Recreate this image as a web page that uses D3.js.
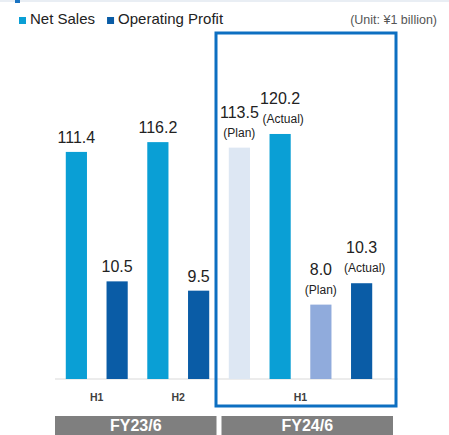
<!DOCTYPE html>
<html>
<head>
<meta charset="utf-8">
<script src="https://cdn.jsdelivr.net/npm/d3@7.9.0/dist/d3.min.js"></script>
<style>
  html, body { margin: 0; padding: 0; background: #fff; }
  svg { display: block; font-family: "Liberation Sans", Arial, sans-serif; }
</style>
</head>
<body>
<svg id="chart" width="449" height="435"></svg>
<script>
// data
const barKeys = ["23H1-sales", "23H1-profit", "23H2-sales", "23H2-profit",
                 "24H1-salesPlan", "24H1-salesActual", "24H1-profitPlan", "24H1-profitActual"];
const barValues = [111.4, 10.5, 116.2, 9.5, 113.5, 120.2, 8.0, 10.3];
const barSeries = ["sales", "profit", "sales", "profit", "salesPlan", "sales", "profitPlan", "profit"];
const barNotes = ["", "", "", "", "(Plan)", "(Actual)", "(Plan)", "(Actual)"];
const halfLabels = ["H1", "H2", "H1"];
const halfBars = [[0, 1], [2, 3], [4, 7]];
const fyLabels = ["FY23/6", "FY24/6"];
const legendLabels = ["Net Sales", "Operating Profit"];

const colors = {
  sales: "#0a9fd5",
  profit: "#0a5ca6",
  salesPlan: "#dde7f3",
  profitPlan: "#90abdc"
};

const svg = d3.select("#chart");
const baseY = 379;

const x = d3.scaleBand().domain(barKeys).range([56, 382])
  .paddingInner(0.48).paddingOuter(0.24);
// sales and profit sit on their own scales
const ySales = d3.scaleLinear().domain([0, 130]).range([baseY, 114]);
const yProfit = d3.scaleLinear().domain([0, 28.5]).range([baseY, 114]);
const yFor = (i) => barSeries[i].startsWith("sales") ? ySales : yProfit;

// faint top strip
svg.append("rect").attr("x", 0).attr("y", 0).attr("width", 449).attr("height", 2).attr("fill", "#e9eef4");
svg.append("rect").attr("x", 15).attr("y", 0).attr("width", 5).attr("height", 3).attr("fill", "#1a73c2");

// legend
const lg = svg.append("g");
let lx = 19;
legendLabels.forEach((t, i) => {
  lg.append("rect").attr("x", lx).attr("y", 17).attr("width", 7).attr("height", 7)
    .attr("fill", i === 0 ? colors.sales : colors.profit);
  const txt = lg.append("text").attr("x", lx + 11).attr("y", 24)
    .attr("font-size", 15).attr("fill", "#222").text(t);
  lx += 11 + txt.node().getComputedTextLength() + 12;
});
svg.append("text").attr("x", 437).attr("y", 24).attr("text-anchor", "end")
  .attr("font-size", 12.5).attr("fill", "#555").text("(Unit: \u00a51 billion)");

// baseline
svg.append("line").attr("x1", 55).attr("x2", 398).attr("y1", baseY).attr("y2", baseY)
  .attr("stroke", "#d9d9d9").attr("stroke-width", 1);

// bars
svg.selectAll("rect.bar").data(barKeys).join("rect")
  .attr("class", "bar")
  .attr("x", (d) => x(d))
  .attr("width", x.bandwidth())
  .attr("y", (d, i) => yFor(i)(barValues[i]))
  .attr("height", (d, i) => baseY - yFor(i)(barValues[i]))
  .attr("fill", (d, i) => colors[barSeries[i]]);

// value labels
barKeys.forEach((k, i) => {
  const cx = x(k) + x.bandwidth() / 2;
  const top = yFor(i)(barValues[i]);
  const valY = barNotes[i] ? top - 30 : top - 9;
  svg.append("text").attr("x", cx).attr("y", valY).attr("text-anchor", "middle")
    .attr("font-size", 16).attr("fill", "#222").text(barValues[i].toFixed(1));
  if (barNotes[i]) {
    svg.append("text").attr("x", cx + (barNotes[i] === "(Actual)" ? 3 : 0)).attr("y", top - 11)
      .attr("text-anchor", "middle").attr("font-size", 12).attr("fill", "#222").text(barNotes[i]);
  }
});

// half-year labels
halfLabels.forEach((t, i) => {
  const a = x(barKeys[halfBars[i][0]]);
  const b = x(barKeys[halfBars[i][1]]) + x.bandwidth();
  svg.append("text").attr("x", (a + b) / 2).attr("y", 401).attr("text-anchor", "middle")
    .attr("font-size", 10.5).attr("font-weight", "bold").attr("fill", "#404040").text(t);
});

// fiscal year boxes
const gap = x.step() * x.paddingInner() / 2;
const fyEdges = [[55, x(barKeys[3]) + x.bandwidth() + gap - 2.5],
                 [x(barKeys[4]) - gap + 2.5, 393]];
fyLabels.forEach((t, i) => {
  const [a, b] = fyEdges[i];
  svg.append("rect").attr("x", a).attr("y", 416).attr("width", b - a).attr("height", 22).attr("fill", "#7f7f7f");
  svg.append("text").attr("x", (a + b) / 2).attr("y", 431).attr("text-anchor", "middle")
    .attr("font-size", 16).attr("font-weight", "bold").attr("fill", "#fff").text(t);
});

// frame round FY24 bars
const fl = fyEdges[1][0] - 5.5;
svg.append("rect").attr("x", fl).attr("y", 33).attr("width", 396 - fl).attr("height", 373)
  .attr("fill", "none").attr("stroke", "#0d6fc1").attr("stroke-width", 3);
</script>
</body>
</html>
